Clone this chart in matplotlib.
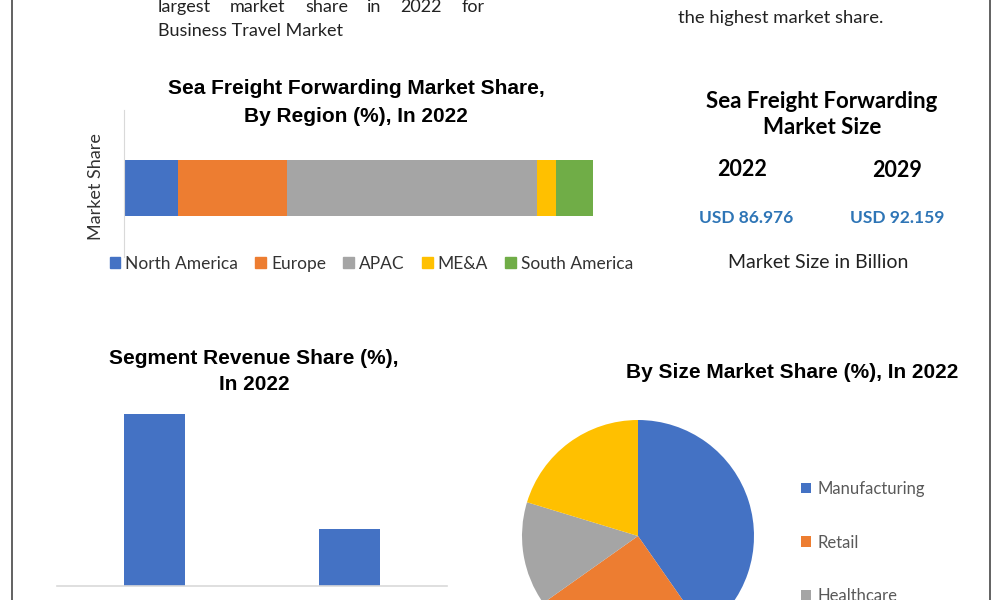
import matplotlib.pyplot as plt
from matplotlib.lines import Line2D
from matplotlib.patches import Patch

# region split of the stacked bar (%)
regions = ["North America", "Europe", "APAC", "ME&A", "South America"]
region_share = [11.5, 23.3, 53.3, 4.0, 7.9]
region_colors = ["#4472C4", "#ED7D31", "#A5A5A5", "#FFC000", "#70AD47"]

# market size box
years = ["2022", "2029"]
market_size = ["USD 86.976", "USD 92.159"]

# segment revenue share
segments = ["Segment A", "Segment B"]
segment_share = [75, 25]

# by size pie
sizes = ["Manufacturing", "Retail", "Healthcare", "Others"]
size_share = [40.3, 24.9, 14.5, 20.3]
size_colors = ["#4472C4", "#ED7D31", "#A5A5A5", "#FFC000"]

TITLE = ["Liberation Sans Narrow", "Liberation Sans", "DejaVu Sans"]
BODY = ["Lato", "DejaVu Sans"]

W, H = 1000, 600
fig = plt.figure(figsize=(10, 6), dpi=100)


def fx(x):
    return x / W


def fy(y):
    return 1 - y / H


def ftext(x, y, s, **kw):
    kw.setdefault("ha", "center")
    kw.setdefault("va", "center")
    fig.text(fx(x), fy(y), s, **kw)


# frame lines
for x in (12, 990):
    fig.add_artist(Line2D([fx(x), fx(x)], [0, 1], transform=fig.transFigure,
                          color="#555555", lw=1.3))

# text cut off at the top
words = ["largest", "market", "share", "in", "2022", "for"]
word_x = [158, 230, 305, 367, 400, 462]
for w, x in zip(words, word_x):
    ftext(x, 7, w, ha="left", fontsize=13, family=BODY, color="#222222")
ftext(158, 31, "Business Travel Market", ha="left", fontsize=13, family=BODY, color="#222222")
ftext(678, 18, "the highest market share.", ha="left", fontsize=13.3, family=BODY, color="#222222")

# ---- stacked bar: market share by region
ax1 = fig.add_axes([fx(124), fy(257), fx(593) - fx(124), 147 / H])
left = 0
for name, v, c in zip(regions, region_share, region_colors):
    ax1.barh(0, v, left=left, height=0.381, color=c, label=name)
    left += v
ax1.set_xlim(0, 100)
ax1.set_ylim(-0.469, 0.531)
ax1.set_xticks([])
ax1.set_yticks([])
for s in ("top", "right", "bottom"):
    ax1.spines[s].set_visible(False)
ax1.spines["left"].set_color("#D9D9D9")
ftext(96, 187, "Market Share", rotation=90, fontsize=13, family=BODY, color="#333333")
ftext(356, 89, "Sea Freight Forwarding Market Share,", fontsize=15, fontweight="bold", family=TITLE)
ftext(356, 116, "By Region (%), In 2022", fontsize=15, fontweight="bold", family=TITLE)
ax1.legend(handles=[Patch(color=c) for c in region_colors], labels=regions, ncol=5,
           loc="center left", bbox_to_anchor=(fx(94), fy(264)), bbox_transform=fig.transFigure,
           frameon=False, handlelength=0.6, handleheight=0.6, handletextpad=0.3,
           columnspacing=1.0, prop={"family": BODY, "size": 12.5}, labelcolor="#333333")

# ---- market size box
ftext(822, 102, "Sea Freight Forwarding", fontsize=16, fontweight="bold", family=BODY)
ftext(822, 128, "Market Size", fontsize=16, fontweight="bold", family=BODY)
for yr, val, x, y in zip(years, market_size, [742, 897], [169, 171]):
    ftext(x, y, yr, fontsize=15.5, fontweight="bold", family=BODY)
    ftext(x + 4 if x < 800 else x, 218, val, fontsize=12.5, fontweight="bold", family=BODY,
          color="#2E75B6")
ftext(818, 262, "Market Size in Billion", fontsize=14, family=BODY, color="#222222")

# ---- segment revenue share
ax2 = fig.add_axes([fx(57), fy(586), fx(447) - fx(57), (172 / 75 * 80) / H])
ax2.bar(range(len(segments)), segment_share, width=0.31, color="#4472C4")
ax2.set_xlim(-0.5, 1.5)
ax2.set_ylim(0, 80)
ax2.set_xticks([])
ax2.set_yticks([])
for s in ("top", "right", "left"):
    ax2.spines[s].set_visible(False)
ax2.spines["bottom"].set_color("#D9D9D9")
ax2.spines["bottom"].set_linewidth(1.2)
ftext(254, 359, "Segment Revenue Share (%),", fontsize=15, fontweight="bold", family=TITLE)
ftext(254, 385, "In 2022", fontsize=15, fontweight="bold", family=TITLE)

# ---- pie by size
ax3 = fig.add_axes([fx(522), fy(652), 232 / W, 232 / H])
wedges, _ = ax3.pie(size_share, colors=size_colors, startangle=90, counterclock=False,
                    radius=1)
ax3.set_xlim(-1, 1)
ax3.set_ylim(-1, 1)
ftext(792, 373, "By Size Market Share (%), In 2022", fontsize=15, fontweight="bold", family=TITLE)
ax3.legend(wedges[:3], sizes[:3], loc="upper left", bbox_to_anchor=(fx(786), fy(466)),
           bbox_transform=fig.transFigure, frameon=False, handlelength=0.6, handleheight=0.6,
           handletextpad=0.4, labelspacing=2.25, prop={"family": BODY, "size": 12},
           labelcolor="#595959")

fig.savefig("out.png", dpi=100)
